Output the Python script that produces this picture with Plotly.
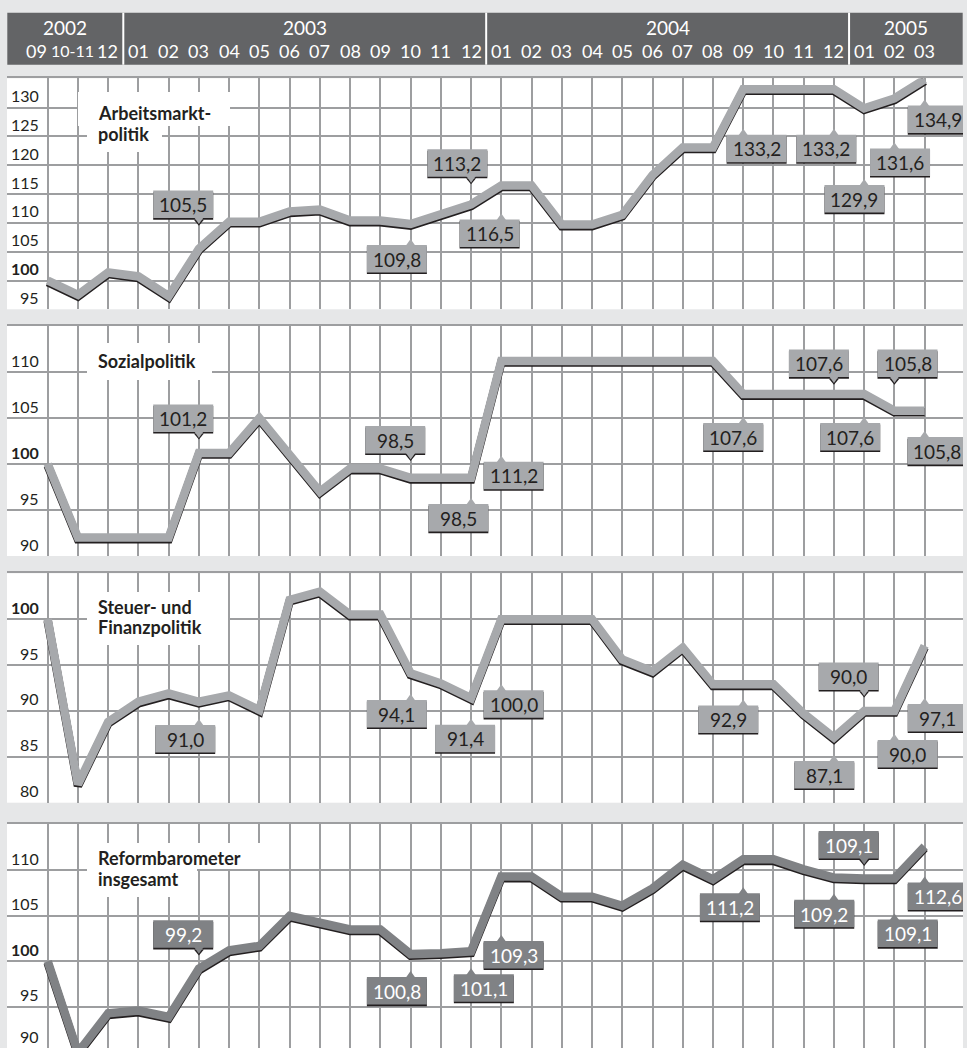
import plotly.graph_objects as go

# ---------------- data ----------------
months = ["09", "10-11", "12",
          "01", "02", "03", "04", "05", "06", "07", "08", "09", "10", "11", "12",
          "01", "02", "03", "04", "05", "06", "07", "08", "09", "10", "11", "12",
          "01", "02", "03"]
years = ["2002", "2003", "2004", "2005"]
months_per_year = [3, 12, 12, 3]

arbeitsmarkt = [100.0, 97.5, 101.4, 100.7, 97.3, 105.5, 110.2, 110.2, 112.0, 112.3,
                110.4, 110.4, 109.8, 111.4, 113.2, 116.5, 116.5, 109.7, 109.7, 111.4,
                118.3, 123.1, 123.1, 133.2, 133.2, 133.2, 133.2, 129.9, 131.6, 134.9]
sozial = [100.0, 92.0, 92.0, 92.0, 92.0, 101.2, 101.2, 105.0, 101.0, 97.0,
          99.5, 99.5, 98.5, 98.5, 98.5, 111.2, 111.2, 111.2, 111.2, 111.2,
          111.2, 111.2, 111.2, 107.6, 107.6, 107.6, 107.6, 107.6, 105.8, 105.8]
steuer = [100.0, 82.0, 88.8, 91.0, 91.9, 91.0, 91.7, 90.1, 102.1, 103.0,
          100.5, 100.5, 94.1, 93.0, 91.4, 100.0, 100.0, 100.0, 100.0, 95.6,
          94.3, 96.9, 92.9, 92.9, 92.9, 89.7, 87.1, 90.0, 90.0, 97.1]
reform = [100.0, 90.0, 94.3, 94.6, 93.9, 99.2, 101.2, 101.7, 105.0, 104.2,
          103.5, 103.5, 100.8, 100.9, 101.1, 109.3, 109.3, 107.1, 107.1, 106.1,
          108.0, 110.6, 109.0, 111.2, 111.2, 110.1, 109.2, 109.1, 109.1, 112.6]

series = [arbeitsmarkt, sozial, steuer, reform]
titles = [["Arbeitsmarkt-", "politik"], ["Sozialpolitik"],
          ["Steuer- und", "Finanzpolitik"], ["Reformbarometer", "insgesamt"]]
ticks = [[95, 100, 105, 110, 115, 120, 125, 130],
         [90, 95, 100, 105, 110],
         [80, 85, 90, 95, 100],
         [90, 95, 100, 105, 110]]
label_idx = [5, 12, 14, 15, 23, 26, 27, 28, 29]

# ---------------- styling / layout ----------------
W, H = 967, 1048
BG = "#e6e7e8"
HEAD = "#636466"
GRID = "#9d9ea0"
DARK = "#231f20"
FONT = "Lato"
line_colors = ["#a7a9ac", "#a7a9ac", "#a7a9ac", "#808285"]
label_text_colors = [DARK, DARK, DARK, "#ffffff"]

PL, PR = 7.0, 963.0
X_IDX0_PX, X_STEP = 47.7, 30.24
X0 = (PL - X_IDX0_PX) / X_STEP
X1 = (PR - X_IDX0_PX) / X_STEP

# (top px, bottom px, y range)
geom = [(78.3, 309.3, [95, 135.1]),
        (326.0, 556.0, [90, 115]),
        (573.3, 802.7, [80, 105]),
        (824.0, 1048.0, [90.5, 115.07])]

# label box centre offsets from the data point (px, screen: +dy = down)
label_offsets = [
    [(-15.7, -44.5), (-13.7, 34.6), (-13.7, -41.5), (-11.7, 47.8), (13.4, 59.2),
     (-7.7, 59.2), (-9.7, 90.6), (5.6, 63.8), (13.1, 39.9)],
    [(-15.7, -34.7), (-15.4, -38.1), (-12.7, 40.0), (12.3, 114.5), (-10.0, 42.6),
     (-15.0, -30.8), (-14.0, 42.6), (13.1, -47.3), (12.8, 40.2)],
    [(-13.7, 37.0), (-13.7, 40.4), (-6.0, 40.3), (12.3, 84.9), (-15.0, 34.8),
     (-9.7, 37.1), (-15.5, -34.7), (13.3, 42.7), (13.1, 71.9)],
    [(-15.7, -34.6), (-13.7, 36.7), (12.8, 36.6), (12.3, 78.1), (-13.3, 47.7),
     (-9.7, 36.0), (-15.5, -33.8), (13.3, 54.9), (13.1, 49.7)],
]
# title lines: text centre y, white box (x0, x1, y0, y1) in px
title_pos = [[113.5, 133.5], [361.0], [606.7, 627.0], [858.3, 879.0]]
title_boxes = [[(78, 230, 92, 126), (87, 162, 126, 152)],
               [(87, 212, 343, 380)],
               [(87, 215, 592, 617), (87, 228, 617, 645)],
               [(87, 265, 843, 869), (87, 197, 869, 897)]]
month_xshift = [-11, -5, -1] + [0] * 27
month_size = [18, 16, 18] + [18] * 27
TICK_LIFT = 12.0      # tick label centre sits this many px above its grid line
TICK_HALF_H = 11.5    # keep tick label boxes inside the page

BOX_W, BOX_H, PTR_W, PTR_H, SHADOW = 60.0, 27.5, 10.0, 6.0, 1.6


def py(p):
    return 1 - p / H


fig = go.Figure()
layout = {}
shapes = []
annotations = []
xs = list(range(len(months)))

for i, vals in enumerate(series):
    n = i + 1
    sfx = "" if n == 1 else str(n)
    xa, ya = "x" + sfx, "y" + sfx
    top, bot, rng = geom[i]
    ppu = (bot - top) / (rng[1] - rng[0])
    off = SHADOW / ppu

    fig.add_trace(go.Scatter(x=xs, y=[v - off for v in vals], mode="lines",
                             line=dict(color=DARK, width=8.5), xaxis=xa, yaxis=ya,
                             hoverinfo="skip", showlegend=False))
    fig.add_trace(go.Scatter(x=xs, y=vals, mode="lines",
                             line=dict(color=line_colors[i], width=8.5), xaxis=xa, yaxis=ya,
                             hoverinfo="skip", showlegend=False))

    layout["xaxis" + sfx] = dict(domain=[PL / W, PR / W], range=[X0, X1], anchor=ya,
                                 tickvals=xs, showticklabels=False, ticks="",
                                 showgrid=True, gridcolor=GRID, gridwidth=2,
                                 zeroline=False, showline=True, side="top",
                                 linecolor=GRID, linewidth=2, fixedrange=True)
    layout["yaxis" + sfx] = dict(domain=[py(bot), py(top)], range=rng, anchor=xa,
                                 tickvals=ticks[i], showticklabels=False, ticks="",
                                 showgrid=True, gridcolor=GRID, gridwidth=2,
                                 zeroline=False, showline=False, fixedrange=True)

    # y tick labels (placed in the band just above each grid line)
    for t in ticks[i]:
        yl = t + TICK_LIFT / ppu
        yl = max(yl, rng[0] + TICK_HALF_H / ppu)
        annotations.append(dict(x=40.7 / W, xref="paper", y=yl, yref=ya,
                                xanchor="right", yanchor="middle",
                                text=f"<b>{t}</b>" if t == 100 else str(t),
                                showarrow=False,
                                font=dict(family=FONT, size=16, color=DARK)))

    # titles (white boxes + text)
    for (bx0, bx1, by0, by1) in title_boxes[i]:
        shapes.append(dict(type="rect", xref="paper", yref="paper",
                           x0=bx0 / W, x1=bx1 / W, y0=py(by1), y1=py(by0),
                           fillcolor="#ffffff", line=dict(width=0), layer="above"))
    for line_txt, cy in zip(titles[i], title_pos[i]):
        annotations.append(dict(x=96.0 / W, xref="paper", y=py(cy), yref="paper",
                                xanchor="left", yanchor="middle", text=f"<b>{line_txt}</b>",
                                showarrow=False,
                                font=dict(family=FONT, size=18, color=DARK)))

    # value labels
    for k, idx in enumerate(label_idx):
        dx, dy = label_offsets[i][k]
        v = vals[idx]
        col = line_colors[i]
        cy = -dy  # pixel coords: positive = up
        y0b, y1b = cy - BOX_H / 2, cy + BOX_H / 2
        common = dict(xref=xa, yref=ya, xsizemode="pixel", ysizemode="pixel",
                      xanchor=idx, yanchor=v, layer="above")
        shapes.append(dict(type="rect", x0=dx - BOX_W / 2, x1=dx + BOX_W / 2,
                           y0=y0b - SHADOW, y1=y1b - SHADOW, fillcolor=DARK,
                           line=dict(width=0), **common))
        if dy < 0:  # label above point: pointer at bottom, pointing down
            b = y0b
            shapes.append(dict(type="path",
                               path=f"M {-PTR_W/2},{b - SHADOW} L {PTR_W/2},{b - SHADOW} L 0,{b - PTR_H - SHADOW} Z",
                               fillcolor=DARK, line=dict(width=0), **common))
            ptr = f"M {-PTR_W/2},{b + 1} L {PTR_W/2},{b + 1} L 0,{b - PTR_H} Z"
        else:  # label below point: pointer at top, pointing up
            b = y1b
            ptr = f"M {-PTR_W/2},{b - 1} L {PTR_W/2},{b - 1} L 0,{b + PTR_H} Z"
        shapes.append(dict(type="rect", x0=dx - BOX_W / 2, x1=dx + BOX_W / 2,
                           y0=y0b, y1=y1b, fillcolor=col, line=dict(width=0), **common))
        shapes.append(dict(type="path", path=ptr, fillcolor=col,
                           line=dict(width=0), **common))
        annotations.append(dict(x=idx, y=v, xref=xa, yref=ya, xshift=dx, yshift=cy - 0.5,
                                text=f"{v:.1f}".replace(".", ","), showarrow=False,
                                xanchor="center", yanchor="middle",
                                font=dict(family=FONT, size=19, color=label_text_colors[i])))

# ---------------- header ----------------
shapes.append(dict(type="rect", xref="paper", yref="paper", x0=7.3 / W, x1=962.7 / W,
                   y0=py(64.7), y1=py(12.7), fillcolor=HEAD, line=dict(width=0),
                   layer="below"))
bounds = [X0]
acc = 0
for m in months_per_year[:-1]:
    acc += m
    bounds.append(acc - 0.5)
bounds.append(X1)
for b in bounds[1:-1]:
    shapes.append(dict(type="line", xref="x", yref="paper", x0=b, x1=b,
                       y0=py(64.7), y1=py(12.7), line=dict(color="#ffffff", width=2)))
for yi, yr in enumerate(years):
    annotations.append(dict(x=(bounds[yi] + bounds[yi + 1]) / 2, xref="x",
                            y=py(27.5), yref="paper", text=yr, showarrow=False,
                            xanchor="center", yanchor="middle",
                            font=dict(family=FONT, size=19, color="#ffffff")))
for mi, m in enumerate(months):
    annotations.append(dict(x=mi, xref="x", xshift=month_xshift[mi],
                            y=py(51), yref="paper", text=m, showarrow=False,
                            xanchor="center", yanchor="middle",
                            font=dict(family=FONT, size=month_size[mi], color="#ffffff")))

fig.update_layout(width=W, height=H, margin=dict(l=0, r=0, t=0, b=0),
                  paper_bgcolor=BG, plot_bgcolor="#ffffff", showlegend=False,
                  shapes=shapes, annotations=annotations, **layout)

fig.write_html("out.html", config={"displayModeBar": False})
